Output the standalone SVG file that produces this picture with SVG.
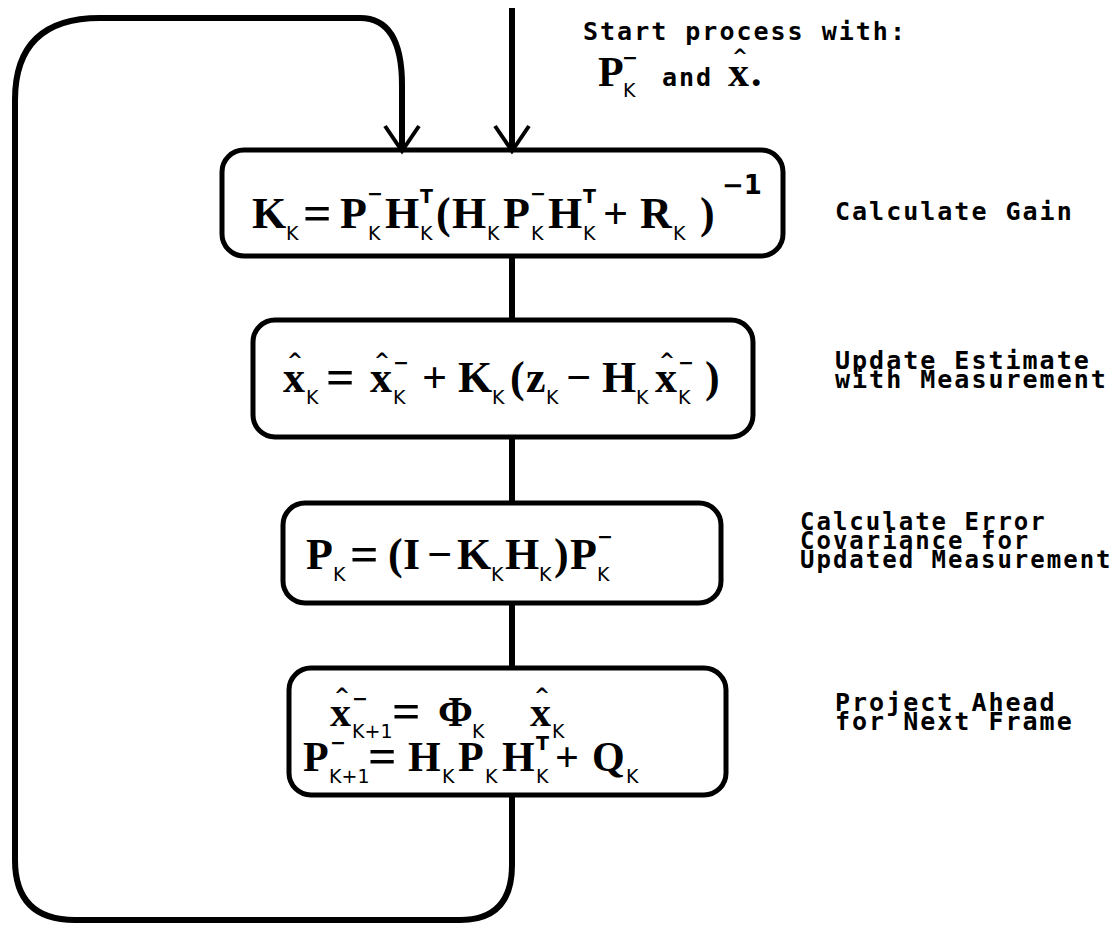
<svg xmlns="http://www.w3.org/2000/svg" width="1117" height="928" viewBox="0 0 1117 928">
<style>
.box{fill:none;stroke:#000;stroke-width:5}
.ln{fill:none;stroke:#000;stroke-width:6;stroke-linecap:butt}
.ah{fill:none;stroke:#000;stroke-width:4}
.lbl{font-family:"DejaVu Sans Mono",monospace;font-weight:bold;font-size:25px;letter-spacing:2px;fill:#000}
.lbl2{font-family:"DejaVu Sans Mono",monospace;font-weight:bold;font-size:24px;letter-spacing:2px;fill:#000}
.m{font-family:"Liberation Serif",serif;font-weight:bold;font-size:44px;fill:#000}
.m4{font-family:"Liberation Serif",serif;font-weight:bold;font-size:42px;fill:#000}
.s{font-family:"DejaVu Sans",sans-serif;font-size:19px;fill:#000}
.sb{font-family:"DejaVu Sans",sans-serif;font-weight:bold;font-size:19px;fill:#000}
.eq{font-family:"Liberation Serif",serif;font-weight:bold;font-size:50px;fill:#000}
</style>
<rect width="1117" height="928" fill="#fff"/>
<g id="connectors">
<path class="ln" d="M512,8 L512,150"/>
<path class="ln" d="M512,256 L512,320"/>
<path class="ln" d="M512,437 L512,503"/>
<path class="ln" d="M512,603 L512,668"/>
<path class="ln" d="M512,795 L512,865 Q512,920 460,920 L75,920 Q15,920 15,860 L15,100 Q15,18 100,18 L360,18 Q402,18 402,85 L402,150"/>
<path class="ah" d="M385,126 L402,151 L419,126"/>
<path class="ah" d="M495,126 L512,151 L529,126"/>
</g>
<g id="start">
<text class="lbl" x="583" y="40">Start process with:</text>
<text class="m4" x="598" y="86">P</text>
<text class="sb" x="622" y="64">−</text>
<text class="s" x="623" y="97">K</text>
<text class="lbl" x="662" y="86">and</text>
<text class="m4" x="728" y="86">x</text>
<text class="sb" x="732" y="63">^</text>
<text class="m4" x="751" y="86">.</text>
</g>
<g id="gain">
<rect class="box" x="222" y="150" width="561" height="106" rx="22"/>
<text class="m" x="252" y="228">K</text>
<text class="s" x="286" y="240">K</text>
<text class="eq" x="303" y="230">=</text>
<text class="m" x="340" y="228">P</text>
<text class="sb" x="367" y="200">−</text>
<text class="s" x="368" y="240">K</text>
<text class="m" x="385" y="228">H</text>
<text class="sb" x="420" y="203">T</text>
<text class="s" x="420" y="240">K</text>
<text class="m" x="436" y="228">(</text>
<text class="m" x="452" y="228">H</text>
<text class="s" x="487" y="240">K</text>
<text class="m" x="503" y="228">P</text>
<text class="sb" x="530" y="200">−</text>
<text class="s" x="531" y="240">K</text>
<text class="m" x="548" y="228">H</text>
<text class="sb" x="583" y="203">T</text>
<text class="s" x="583" y="240">K</text>
<text class="m" x="603" y="228">+</text>
<text class="m" x="640" y="228">R</text>
<text class="s" x="673" y="240">K</text>
<text class="m" x="700" y="228">)</text>
<text class="sb" x="722" y="194" style="font-size:26px">−1</text>
</g>
<g id="update">
<rect class="box" x="253" y="320" width="500" height="117" rx="22"/>
<text class="m" x="283" y="392">x</text>
<text class="sb" x="287" y="367">^</text>
<text class="s" x="306" y="404">K</text>
<text class="eq" x="326" y="394">=</text>
<text class="m" x="370" y="392">x</text>
<text class="sb" x="374" y="367">^</text>
<text class="sb" x="393" y="369">−</text>
<text class="s" x="393" y="404">K</text>
<text class="m" x="422" y="392">+</text>
<text class="m" x="458" y="392">K</text>
<text class="s" x="492" y="404">K</text>
<text class="m" x="510" y="392">(</text>
<text class="m" x="526" y="392">z</text>
<text class="s" x="546" y="404">K</text>
<text class="m" x="566" y="392">−</text>
<text class="m" x="602" y="392">H</text>
<text class="s" x="636" y="404">K</text>
<text class="m" x="655" y="392">x</text>
<text class="sb" x="659" y="367">^</text>
<text class="sb" x="678" y="369">−</text>
<text class="s" x="678" y="404">K</text>
<text class="m" x="705" y="392">)</text>
</g>
<g id="covariance">
<rect class="box" x="283" y="503" width="438" height="100" rx="22"/>
<text class="m" x="306" y="569">P</text>
<text class="s" x="333" y="581">K</text>
<text class="eq" x="350" y="571">=</text>
<text class="m" x="388" y="569">(</text>
<text class="m" x="403" y="569">I</text>
<text class="m" x="427" y="569">−</text>
<text class="m" x="457" y="569">K</text>
<text class="s" x="491" y="581">K</text>
<text class="m" x="505" y="569">H</text>
<text class="s" x="539" y="581">K</text>
<text class="m" x="554" y="569">)</text>
<text class="m" x="570" y="569">P</text>
<text class="sb" x="597" y="543">−</text>
<text class="s" x="597" y="581">K</text>
</g>
<g id="project">
<rect class="box" x="289" y="668" width="437" height="127" rx="22"/>
<text class="m4" x="330" y="726">x</text>
<text class="sb" x="334" y="702">^</text>
<text class="sb" x="352" y="705">−</text>
<text class="s" x="352" y="738">K+1</text>
<text class="eq" x="392" y="728">=</text>
<text class="m4" x="438" y="726">Φ</text>
<text class="s" x="472" y="738">K</text>
<text class="m4" x="530" y="726">x</text>
<text class="sb" x="534" y="702">^</text>
<text class="s" x="552" y="738">K</text>
<text class="m4" x="303" y="771">P</text>
<text class="sb" x="330" y="749">−</text>
<text class="s" x="329" y="783">K+1</text>
<text class="eq" x="368" y="773">=</text>
<text class="m4" x="408" y="771">H</text>
<text class="s" x="442" y="783">K</text>
<text class="m4" x="458" y="771">P</text>
<text class="s" x="485" y="783">K</text>
<text class="m4" x="502" y="771">H</text>
<text class="sb" x="536" y="750">T</text>
<text class="s" x="536" y="783">K</text>
<text class="m4" x="555" y="771">+</text>
<text class="m4" x="592" y="771">Q</text>
<text class="s" x="626" y="783">K</text>
</g>
<g id="labels">
<text class="lbl" x="835" y="220">Calculate Gain</text>
<text class="lbl" x="835" y="369">Update Estimate</text>
<text class="lbl" x="835" y="388">with Measurement</text>
<text class="lbl2" x="800" y="530">Calculate Error</text>
<text class="lbl2" x="800" y="549">Covariance for</text>
<text class="lbl2" x="800" y="568">Updated Measurement</text>
<text class="lbl" x="835" y="711">Project Ahead</text>
<text class="lbl" x="835" y="730">for Next Frame</text>
</g>
</svg>
